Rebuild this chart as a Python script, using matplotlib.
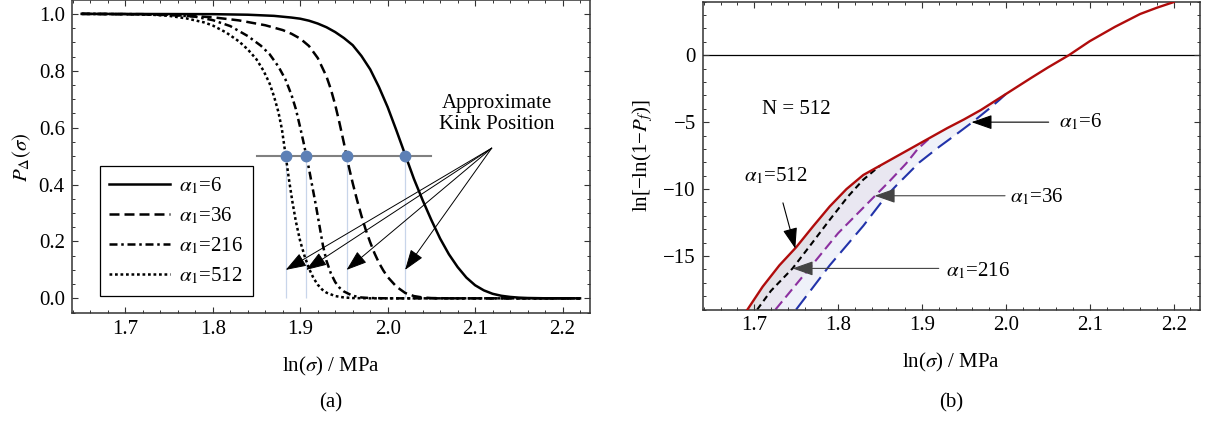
import numpy as np
import matplotlib
matplotlib.use('Agg')
import matplotlib.pyplot as plt
from matplotlib.ticker import MultipleLocator, FormatStrFormatter

plt.rcParams['font.family'] = ['Liberation Serif', 'DejaVu Serif']
plt.rcParams['mathtext.fontset'] = 'stix'
plt.rcParams['font.size'] = 15

# ---------------- panel (a): P_Delta(sigma) for several alpha_1 ----------------
alphas = [6, 36, 216, 512]

x_a6 = [1.65, 1.80, 1.84, 1.87, 1.89, 1.90, 1.91, 1.92, 1.93, 1.94, 1.95, 1.96, 1.97, 1.98,
        1.99, 2.00, 2.01, 2.02, 2.03, 2.04, 2.05, 2.06, 2.07, 2.08, 2.09, 2.10, 2.11, 2.12,
        2.13, 2.14, 2.15, 2.16, 2.18, 2.22]
p_a6 = [1.0, 0.999, 0.997, 0.993, 0.987, 0.983, 0.976, 0.966, 0.953, 0.936, 0.915, 0.89, 0.852,
        0.805, 0.743, 0.672, 0.59, 0.505, 0.42, 0.345, 0.275, 0.21, 0.155, 0.11, 0.073, 0.046,
        0.028, 0.016, 0.009, 0.005, 0.0025, 0.0012, 0.0002, 0.0]

x_a36 = [1.65, 1.72, 1.76, 1.80, 1.83, 1.86, 1.88, 1.89, 1.90, 1.91, 1.92, 1.93, 1.935, 1.94,
         1.945, 1.95, 1.953, 1.956, 1.96, 1.965, 1.97, 1.975, 1.98, 1.985, 1.99, 1.995, 2.00,
         2.01, 2.02, 2.03, 2.04, 2.05, 2.07, 2.22]
p_a36 = [1.0, 0.998, 0.995, 0.988, 0.977, 0.96, 0.943, 0.93, 0.913, 0.887, 0.845, 0.78, 0.735,
         0.68, 0.615, 0.545, 0.5, 0.457, 0.405, 0.345, 0.29, 0.24, 0.197, 0.158, 0.125, 0.098,
         0.075, 0.041, 0.019, 0.008, 0.003, 0.001, 0.0, 0.0]

x_a216 = [1.65, 1.72, 1.75, 1.78, 1.80, 1.82, 1.84, 1.855, 1.865, 1.875, 1.883, 1.89, 1.895,
          1.90, 1.904, 1.907, 1.91, 1.914, 1.918, 1.922, 1.926, 1.93, 1.935, 1.94, 1.945, 1.95,
          1.96, 1.97, 1.98, 2.00, 2.22]
p_a216 = [1.0, 0.999, 0.997, 0.99, 0.978, 0.957, 0.922, 0.888, 0.858, 0.815, 0.77, 0.715, 0.665,
          0.6, 0.545, 0.5, 0.455, 0.39, 0.325, 0.255, 0.185, 0.132, 0.088, 0.057, 0.037, 0.024,
          0.009, 0.003, 0.001, 0.0, 0.0]

x_a512 = [1.65, 1.70, 1.73, 1.75, 1.77, 1.79, 1.80, 1.815, 1.83, 1.84, 1.85, 1.858, 1.865, 1.87,
          1.875, 1.879, 1.8834, 1.887, 1.891, 1.895, 1.90, 1.905, 1.91, 1.915, 1.92, 1.925,
          1.93, 1.94, 1.95, 1.96, 1.98, 2.22]
p_a512 = [1.0, 0.999, 0.997, 0.993, 0.984, 0.97, 0.959, 0.935, 0.903, 0.875, 0.84, 0.8, 0.755,
          0.71, 0.655, 0.595, 0.5, 0.42, 0.34, 0.27, 0.2, 0.148, 0.105, 0.072, 0.048, 0.031,
          0.02, 0.008, 0.003, 0.001, 0.0, 0.0]

kink_x = [1.8834, 1.9067, 1.9530, 2.0199]

# ---------------- panel (b): ln[-ln(1-P_f)], N = 512 ----------------
red_x = [1.692, 1.71, 1.73, 1.75, 1.77, 1.79, 1.81, 1.83, 1.85, 1.87, 1.89, 1.91, 1.93, 1.95,
         1.97, 1.99, 2.01, 2.03, 2.05, 2.075, 2.10, 2.13, 2.16, 2.18, 2.20]
red_y = [-19.0, -17.3, -15.7, -14.35, -12.8, -11.3, -10.0, -8.95, -8.25, -7.55, -6.85, -6.15,
         -5.45, -4.8, -4.1, -3.3, -2.5, -1.7, -0.92, 0.0, 1.05, 2.12, 3.08, 3.55, 3.97]

blk_x = [1.7036, 1.72, 1.7457, 1.77, 1.79, 1.812, 1.83, 1.85]
blk_y = [-19.0, -17.6, -15.93, -13.95, -12.3, -10.54, -9.3, -8.25]

pur_x = [1.7254, 1.7657, 1.80, 1.8435, 1.86, 1.881, 1.895, 1.91]
pur_y = [-19.0, -15.93, -13.3, -10.54, -9.5, -8.1, -7.0, -6.15]

blu_x = [1.750, 1.79, 1.83, 1.857, 1.87, 1.897, 1.921, 1.94, 1.961, 1.98, 1.993, 2.0]
blu_y = [-19.0, -15.7, -12.75, -10.55, -9.7, -8.0, -6.82, -5.95, -4.96, -4.0, -3.3, -2.9]

fig = plt.figure(figsize=(12.08, 4.23), dpi=100)
ax1 = fig.add_axes([71.7 / 1208, 1 - 313.3 / 423, (590 - 71.7) / 1208, (313.3 - 0.5) / 423])
ax2 = fig.add_axes([702.7 / 1208, 1 - 309.5 / 423, (1200 - 702.7) / 1208, (309.5 - 1.7) / 423])

frame_col = '#333333'
for ax in (ax1, ax2):
    for sp in ax.spines.values():
        sp.set_color(frame_col)
        sp.set_linewidth(1.1)
    ax.tick_params(which='both', direction='in', top=True, right=True, colors=frame_col,
                   labelcolor='black', pad=5)
    ax.tick_params(which='major', length=4.5, width=0.8)
    ax.tick_params(which='minor', length=2.5, width=0.7)
    ax.set_xlim(1.6386, 2.2314)
    ax.xaxis.set_major_locator(MultipleLocator(0.1))
    ax.xaxis.set_minor_locator(MultipleLocator(0.02))
    ax.xaxis.set_major_formatter(FormatStrFormatter('%.1f'))
    ax.set_xlabel(r'ln($\sigma$) / MPa', labelpad=11)

# panel (a)
ax1.set_ylim(-0.0526, 1.047)
ax1.yaxis.set_major_locator(MultipleLocator(0.2))
ax1.yaxis.set_minor_locator(MultipleLocator(0.05))
ax1.yaxis.set_major_formatter(FormatStrFormatter('%.1f'))
ax1.set_ylabel(r'$P_{\Delta}(\sigma)$', labelpad=4)

ax1.vlines(kink_x, 0, 0.5, color='#c8d5ea', lw=0.9, zorder=1)
styles = ['-', (0, (4, 2)), (0, (3.2, 1.5, 1, 1.5)), (0, (1.1, 1.1))]
for xs, ps, a, ls in zip([x_a6, x_a36, x_a216, x_a512], [p_a6, p_a36, p_a216, p_a512], alphas, styles):
    ax1.plot(xs, ps, color='black', lw=1.8, linestyle=ls, label=r'$\alpha_1$=%d' % a, zorder=3)
ax1.plot([1.85, 2.05], [0.5, 0.5], color='#808080', lw=1.5, zorder=4)
ax1.plot(kink_x, [0.5] * len(kink_x), 'o', color='#5d80b6', ms=7.5, zorder=5)

for kx in kink_x:
    ax1.annotate('', xy=(kx, 0.1), xytext=(2.119, 0.528),
                 arrowprops=dict(arrowstyle='-|>,head_length=0.8,head_width=0.28', mutation_scale=16,
                                 lw=0.7, color='black', shrinkA=0, shrinkB=0), zorder=6)
ax1.text(2.125, 0.648, 'Approximate\nKink Position', ha='center', va='center', linespacing=1.2)

leg = ax1.legend(loc='lower left', bbox_to_anchor=(0.0547, 0.055), fancybox=False, edgecolor='black',
                 framealpha=1, handlelength=2.9, handletextpad=0.45, labelspacing=0.45,
                 borderpad=0.45, borderaxespad=0)
leg.get_frame().set_linewidth(0.9)

# panel (b)
ax2.set_ylim(-19, 4)
ax2.yaxis.set_major_locator(MultipleLocator(5))
ax2.yaxis.set_minor_locator(MultipleLocator(1))
ax2.set_ylabel('ln[−ln(1−$P_f$)]', labelpad=6)
ax2.axhline(0, color='black', lw=0.9, zorder=1)

red_x_arr = np.array(red_x)
red_y_arr = np.array(red_y)
for cx, cy, fc in [(blu_x, blu_y, '#eff1f9'), (pur_x, pur_y, '#e9e7f1'), (blk_x, blk_y, '#e2e1e7')]:
    m = red_x_arr <= cx[-1] - 0.001
    px = np.concatenate([red_x_arr[m], np.array(cx)[::-1]])
    py = np.concatenate([red_y_arr[m], np.array(cy)[::-1]])
    ax2.fill(px, py, color=fc, lw=0, zorder=1)

ax2.plot(blu_x, blu_y, color='#2233aa', lw=1.5, linestyle=(0, (8, 3.5)), zorder=2)
ax2.plot(pur_x, pur_y, color='#8b2f9f', lw=1.5, linestyle=(0, (5, 2.5)), zorder=2)
ax2.plot(blk_x, blk_y, color='black', lw=1.5, linestyle=(0, (3, 2)), zorder=2)
ax2.plot(red_x, red_y, color='#b00c0c', lw=1.7, zorder=3)

ax2.text(1.7497, -4.09, 'N = 512', ha='center', va='center')
arr = dict(arrowstyle='-|>,head_length=0.8,head_width=0.28', mutation_scale=16, lw=0.8,
           color='black', shrinkA=0, shrinkB=0)
ax2.annotate(r'$\alpha_1$=512', xy=(1.749, -14.45), xytext=(1.7257, -9.05), ha='center', va='center',
             arrowprops=dict(arr, shrinkA=10))
ax2.annotate('', xy=(1.959, -5.0), xytext=(2.051, -5.0), arrowprops=arr)
ax2.text(2.063, -5.0, r'$\alpha_1$=6', ha='left', va='center')
ax2.annotate('', xy=(1.8435, -10.5), xytext=(1.999, -10.5), arrowprops=dict(arr, color='#444444'))
ax2.text(2.005, -10.6, r'$\alpha_1$=36', ha='left', va='center')
ax2.annotate('', xy=(1.7457, -15.93), xytext=(1.920, -15.93), arrowprops=dict(arr, color='#444444'))
ax2.text(1.929, -16.1, r'$\alpha_1$=216', ha='left', va='center')

fig.text(331 / 1208, 1 - 403 / 423, '(a)', ha='center', va='center')
fig.text(951 / 1208, 1 - 403 / 423, '(b)', ha='center', va='center')

fig.savefig('out.png', dpi=100)
